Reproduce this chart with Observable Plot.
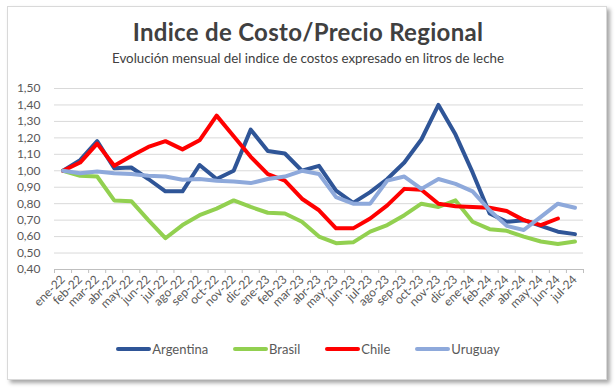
<!DOCTYPE html>
<html>
<head>
<meta charset="utf-8">
<script src="https://cdn.jsdelivr.net/npm/d3@7"></script>
<script src="https://cdn.jsdelivr.net/npm/@observablehq/plot@0.6"></script>
<style>
  html, body { margin: 0; padding: 0; background: #ffffff; }
  #wrap { position: relative; width: 616px; height: 388px; overflow: hidden; font-family: Lato, "DejaVu Sans", sans-serif; }
  #box { position: absolute; left: 7px; top: 6px; width: 598px; height: 372px; border: 1px solid #d9d9d9; background: #fff; box-shadow: 3px 3px 4px rgba(0,0,0,0.35); }
  #head { position: relative; height: 80px; text-align: center; }
  #title { position: absolute; left: 0; right: 0; top: 18px; font-size: 24px; letter-spacing: 0.3px; font-weight: bold; color: #404040; line-height: 28px; }
  #subtitle { position: absolute; left: 0; right: 0; top: 50px; font-size: 13.3px; color: #404040; line-height: 16px; }
  #chart { position: relative; height: 250px; }
  #chart svg { display: block; }
  #legend { position: relative; display: flex; justify-content: center; gap: 25px; padding-top: 11px; font-size: 13px; color: #595959; line-height: 16px; }
  .item { display: flex; align-items: center; }
  .sw { display: inline-block; width: 35px; height: 4px; border-radius: 2px; margin-right: 1px; }
</style>
</head>
<body>
<div id="wrap">
  <div id="box"></div>
  <div id="head">
    <div id="title">Indice de Costo/Precio Regional</div>
    <div id="subtitle">Evolución mensual del indice de costos expresado en litros de leche</div>
  </div>
  <div id="chart"></div>
  <div id="legend"></div>
</div>
<script>
const months = ["ene-22","feb-22","mar-22","abr-22","may-22","jun-22","jul-22","ago-22","sep-22","oct-22","nov-22","dic-22",
  "ene-23","feb-23","mar-23","abr-23","may-23","jun-23","jul-23","ago-23","sep-23","oct-23","nov-23","dic-23",
  "ene-24","feb-24","mar-24","abr-24","may-24","jun-24","jul-24"];
const argentina = [1.00,1.065,1.18,1.015,1.02,0.95,0.875,0.875,1.035,0.95,1.00,1.25,1.12,1.105,1.00,1.03,0.88,0.805,0.87,0.95,1.05,1.19,1.40,1.22,0.99,0.74,0.69,0.70,0.665,0.63,0.615];
const brasil = [1.00,0.97,0.965,0.82,0.815,0.70,0.59,0.67,0.73,0.77,0.82,0.78,0.745,0.74,0.69,0.60,0.56,0.565,0.63,0.67,0.73,0.80,0.78,0.82,0.69,0.645,0.635,0.60,0.57,0.555,0.57];
const chile = [1.00,1.05,1.165,1.03,1.09,1.145,1.18,1.13,1.185,1.335,1.21,1.085,0.98,0.94,0.83,0.76,0.65,0.65,0.71,0.79,0.89,0.885,0.80,0.785,0.78,0.775,0.755,0.70,0.67,0.71];
const uruguay = [1.00,0.985,0.995,0.985,0.98,0.97,0.965,0.945,0.95,0.94,0.935,0.925,0.95,0.965,1.00,0.98,0.84,0.80,0.80,0.94,0.965,0.89,0.95,0.92,0.875,0.76,0.665,0.64,0.72,0.80,0.775];
const seriesNames = ["Argentina","Brasil","Chile","Uruguay"];
const seriesColors = ["#2F5597","#92D050","#FF0000","#8EA9DB"];
const yTicks = [0.40,0.50,0.60,0.70,0.80,0.90,1.00,1.10,1.20,1.30,1.40,1.50];

const seriesValues = [argentina, brasil, chile, uruguay];
const rows = [];
seriesNames.forEach((s, k) => {
  seriesValues[k].forEach((v, i) => rows.push({ serie: s, i, month: months[i], v }));
});
const idx = months.map((_, i) => i);
const bounds = months.map((_, i) => i - 0.5).concat([months.length - 0.5]);
const fmt = d => d.toFixed(2).replace(".", ",");

const plot = Plot.plot({
  width: 616,
  height: 250,
  marginTop: 8,
  marginBottom: 61,
  marginLeft: 54,
  marginRight: 33,
  style: { fontFamily: "Lato, sans-serif", fontSize: "12px", color: "#595959", background: "transparent" },
  x: { type: "linear", domain: [-0.5, months.length - 0.5], axis: null, label: null },
  y: { domain: [0.4, 1.5], axis: null, label: null },
  color: { domain: seriesNames, range: seriesColors },
  marks: [
    Plot.gridY(yTicks, { stroke: "#d9d9d9", strokeOpacity: 1, strokeWidth: 1 }),
    Plot.ruleY([0.4], { stroke: "#bfbfbf", strokeWidth: 1 }),
    Plot.axisY(yTicks, { label: null, tickSize: 0, tickPadding: 14, tickFormat: fmt, fill: "#595959", fontSize: 12 }),
    Plot.axisX(bounds, { label: null, tickSize: 4, tickFormat: () => "", stroke: "#bfbfbf", strokeOpacity: 1 }),
    Plot.axisX(idx, { label: null, tickSize: 0, tickPadding: 8, tickRotate: -45, tickFormat: i => months[i], fill: "#595959", fontSize: 12 }),
    Plot.line(rows, { x: "i", y: "v", z: "serie", stroke: "serie", strokeWidth: 4, strokeLinejoin: "round", strokeLinecap: "round" })
  ]
});
document.getElementById("chart").appendChild(plot);

const legend = document.getElementById("legend");
seriesNames.forEach((s, k) => {
  const it = document.createElement("div");
  it.className = "item";
  const sw = document.createElement("span");
  sw.className = "sw";
  sw.style.background = seriesColors[k];
  const tx = document.createElement("span");
  tx.textContent = s;
  it.appendChild(sw);
  it.appendChild(tx);
  legend.appendChild(it);
});
</script>
</body>
</html>
